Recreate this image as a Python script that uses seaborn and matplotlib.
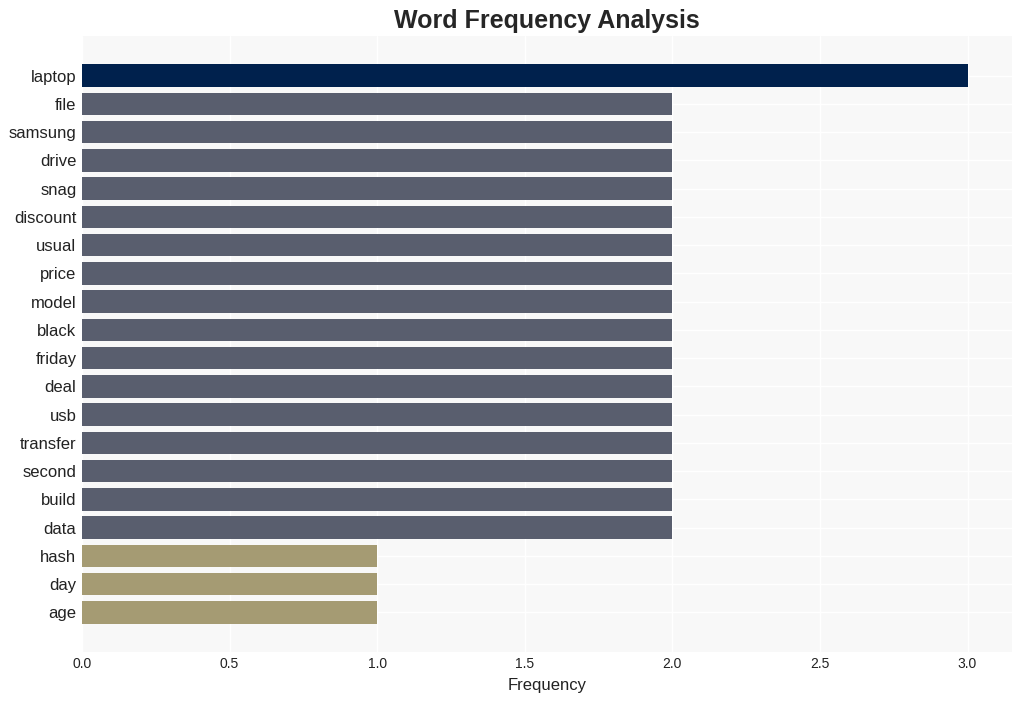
import matplotlib
matplotlib.use("Agg")
import matplotlib.pyplot as plt
import seaborn as sns
import pandas as pd

words = ["laptop", "file", "samsung", "drive", "snag", "discount", "usual", "price",
         "model", "black", "friday", "deal", "usb", "transfer", "second", "build",
         "data", "hash", "day", "age"]
freqs = [3, 2, 2, 2, 2, 2, 2, 2, 2, 2, 2, 2, 2, 2, 2, 2, 2, 1, 1, 1]
color_by_freq = {3: "#00214d", 2: "#595e6e", 1: "#a59b73"}

df = pd.DataFrame({"word": words, "freq": freqs})
palette = [color_by_freq[f] for f in freqs]

sns.set_theme(style="whitegrid")
plt.rcParams["font.family"] = ["Liberation Sans", "DejaVu Sans"]

fig = plt.figure(figsize=(10.22, 7.01), dpi=100)
ax = fig.add_axes([0.0802, 0.0699, 0.9098, 0.8787])
ax.set_facecolor("#f8f8f8")

sns.barplot(data=df, y="word", x="freq", hue="word", palette=palette,
            legend=False, orient="h", width=0.8, ax=ax, saturation=1,
            linewidth=0, edgecolor="none")

ax.set_xlim(0, 3.15)
ax.set_ylim(20.4, -1.4)
ax.grid(True, color="white", linewidth=1)
for s in ax.spines.values():
    s.set_visible(False)
ax.set_xlabel("Frequency", fontsize=12, color="#222222", labelpad=5)
ax.set_ylabel("")
ax.tick_params(axis="y", labelsize=12, colors="#222222", length=0, pad=4)
ax.tick_params(axis="x", labelsize=10, colors="#222222", length=0)
ax.set_title("Word Frequency Analysis", fontsize=18, fontweight="bold", pad=6)

fig.savefig("out.png", dpi=100)
